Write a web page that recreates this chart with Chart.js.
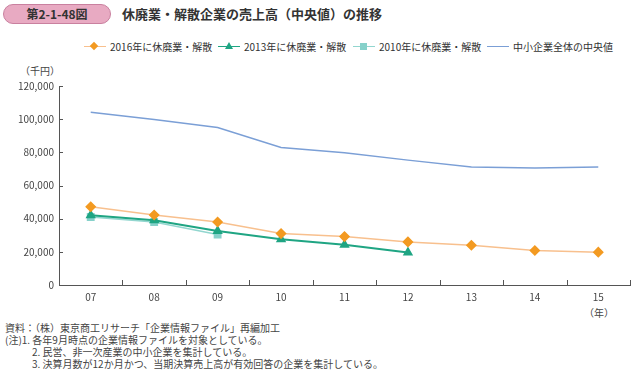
<!DOCTYPE html>
<html lang="ja">
<head>
<meta charset="utf-8">
<script src="https://cdn.jsdelivr.net/npm/chart.js@4"></script>
<style>
  body { margin: 0; width: 640px; height: 374px; background: #fff; font-family: "Noto Sans CJK JP", sans-serif; color: #333; position: relative; overflow: hidden; }
  .badge { position: absolute; left: 3px; top: 4px; width: 108px; height: 20px; border-radius: 10px; background: #e8aac2; border: 1px solid #c9809f; box-sizing: border-box; font-size: 12px; line-height: 18px; text-align: center; font-weight: bold; color: #333; }
  .title { position: absolute; left: 122px; top: 5px; font-size: 13px; line-height: 18px; font-weight: bold; color: #333; }
  .legend { position: absolute; top: 40px; left: 0; width: 640px; font-size: 10px; color: #333; }
  .item { position: absolute; top: 0; height: 14px; line-height: 14px; white-space: nowrap; }
  .swatch { position: absolute; left: 0; top: 6px; width: 22px; height: 0; border-top: 1.5px solid; }
  .mk { position: absolute; }
  .item span.t { position: absolute; left: 26px; top: 0; }
  .unit { position: absolute; left: 20px; top: 63px; font-size: 10px; color: #444; }
  .year { position: absolute; left: 584px; top: 305px; font-size: 10px; color: #444; }
  .notes { position: absolute; left: 5px; top: 322px; font-size: 10px; line-height: 12px; color: #444; }
  .notes div.in { padding-left: 27px; }
</style>
</head>
<body>
<div class="badge">第2-1-48図</div>
<div class="title">休廃業・解散企業の売上高（中央値）の推移</div>
<div class="legend">
  <div class="item" style="left:84px"><div class="swatch" style="border-color:#f8c08e"></div><div class="mk" style="left:7px;top:3px;width:6px;height:6px;background:#f39a21;transform:rotate(45deg)"></div><span class="t">2016年に休廃業・解散</span></div>
  <div class="item" style="left:218px"><div class="swatch" style="border-color:#1fa583"></div><div class="mk" style="left:7px;top:2px;width:0;height:0;border-left:4px solid transparent;border-right:4px solid transparent;border-bottom:7px solid #1fa583"></div><span class="t">2013年に休廃業・解散</span></div>
  <div class="item" style="left:353px"><div class="swatch" style="border-color:#92d6cf"></div><div class="mk" style="left:7px;top:3px;width:7px;height:7px;background:#86d1ca"></div><span class="t">2010年に休廃業・解散</span></div>
  <div class="item" style="left:487px"><div class="swatch" style="border-color:#7b9fd6"></div><span class="t">中小企業全体の中央値</span></div>
</div>
<div class="unit">（千円）</div>
<div id="wrap" style="position:absolute;left:0;top:75px;width:636px;height:230px"><canvas id="chart"></canvas></div>
<div class="year">（年）</div>
<div class="notes">
  <div>資料：（株）東京商工リサーチ「企業情報ファイル」再編加工</div>
  <div>(注)1. 各年9月時点の企業情報ファイルを対象としている。</div>
  <div class="in">2. 民営、非一次産業の中小企業を集計している。</div>
  <div class="in">3. 決算月数が12か月かつ、当期決算売上高が有効回答の企業を集計している。</div>
</div>
<script>
// 年（横軸）
const years = ['07', '08', '09', '10', '11', '12', '13', '14', '15'];
// 売上高（千円）
const closed2016 = [47200, 42200, 38000, 31000, 29200, 26000, 24000, 20800, 19800];
const closed2013 = [42000, 39000, 32600, 27600, 24200, 19600, null, null, null];
const closed2010 = [41000, 38000, 30400, null, null, null, null, null, null];
const smeMedian = [104200, 99800, 95000, 82900, 79800, 75300, 71200, 70600, 71200];
const yTicks = [0, 20000, 40000, 60000, 80000, 100000, 120000];

// 内向きの目盛り線
const innerTicks = {
  id: 'innerTicks',
  afterDraw(chart) {
    const ctx = chart.ctx;
    const x = chart.scales.x, y = chart.scales.y;
    ctx.save();
    ctx.strokeStyle = '#555';
    ctx.lineWidth = 1;
    ctx.beginPath();
    yTicks.forEach(v => {
      const py = Math.round(y.getPixelForValue(v)) + 0.5;
      ctx.moveTo(x.left, py);
      ctx.lineTo(x.left + 4, py);
    });
    for (let i = 0; i < years.length; i++) {
      const px = Math.round(i < years.length - 1
        ? (x.getPixelForValue(i) + x.getPixelForValue(i + 1)) / 2
        : x.right) + 0.5;
      ctx.moveTo(px, y.bottom);
      ctx.lineTo(px, y.bottom - 5);
    }
    ctx.stroke();
    ctx.restore();
  }
};

const ctx = document.getElementById('chart').getContext('2d');
new Chart(ctx, {
  type: 'line',
  data: {
    labels: years,
    datasets: [
      { label: '中小企業全体の中央値', data: smeMedian, borderColor: '#7b9fd6', borderWidth: 1.5, pointRadius: 0, tension: 0 },
      { label: '2016年に休廃業・解散', data: closed2016, borderColor: '#f8c08e', borderWidth: 1.5, pointStyle: 'rectRot', pointRadius: 4.5, pointBackgroundColor: '#f39a21', pointBorderColor: '#f39a21', tension: 0 },
      { label: '2013年に休廃業・解散', data: closed2013, borderColor: '#1fa583', borderWidth: 2, pointStyle: 'triangle', pointRadius: 4, pointBackgroundColor: '#1fa583', pointBorderColor: '#1fa583', tension: 0 },
      { label: '2010年に休廃業・解散', data: closed2010, borderColor: '#92d6cf', borderWidth: 1.5, pointStyle: 'rect', pointRadius: 4.5, pointBackgroundColor: '#86d1ca', pointBorderColor: '#86d1ca', tension: 0 }
    ]
  },
  options: {
    responsive: true,
    maintainAspectRatio: false,
    animation: false,
    layout: { padding: { top: 8, right: 4, left: 0, bottom: 0 } },
    plugins: { legend: { display: false }, tooltip: { enabled: false } },
    scales: {
      x: {
        offset: true,
        grid: { display: false, drawTicks: false },
        border: { color: '#555', width: 1 },
        ticks: { color: '#444', padding: 6, font: { family: '"Noto Sans CJK JP", sans-serif', size: 10 } },
        afterFit(scale) { scale.height = 20; }
      },
      y: {
        min: 0,
        max: 120000,
        afterBuildTicks(scale) { scale.ticks = yTicks.map(v => ({ value: v })); },
        grid: { display: false, drawTicks: false },
        border: { color: '#555', width: 1 },
        ticks: {
          color: '#444',
          padding: 5,
          font: { family: '"Noto Sans CJK JP", sans-serif', size: 10 },
          callback: v => v.toLocaleString('en-US')
        },
        afterFit(scale) { scale.width = 59; }
      }
    }
  },
  plugins: [innerTicks]
});
</script>
</body>
</html>
